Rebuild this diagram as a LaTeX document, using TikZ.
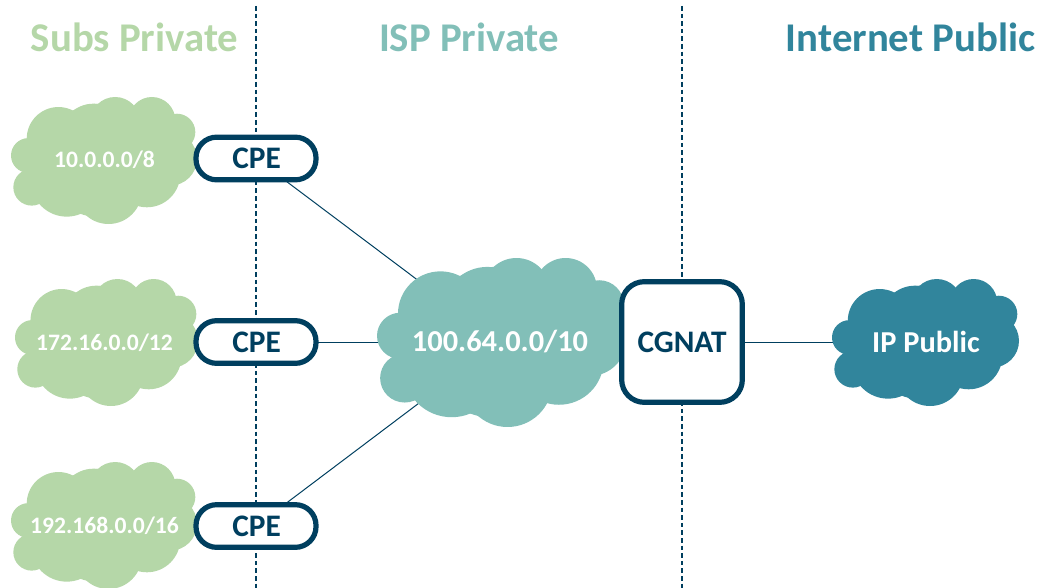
\documentclass[tikz,border=0pt]{standalone}
\usepackage{fontspec}
\setmainfont{Carlito}
\definecolor{subsgreen}{HTML}{B5D7A8}
\definecolor{ispteal}{HTML}{82BFB8}
\definecolor{netblue}{HTML}{31859C}
\definecolor{navy}{HTML}{003F5F}
\tikzset{
    zone/.style={font=\bfseries\fontsize{30.6}{30.6}\selectfont},
    border/.style={navy,line width=2.2pt,dash pattern=on 3.5pt off 2.2pt},
    link/.style={navy,line width=0.75pt},
    cpebox/.style={draw=navy,fill=white,line width=3.9pt,rounded corners=15.5pt,
        minimum width=90pt,minimum height=32pt,inner sep=0pt,
        text=navy,font=\bfseries\fontsize{23.5}{23.5}\selectfont},
    natbox/.style={cpebox,rounded corners=17pt,minimum width=90.5pt,minimum height=90.5pt},
    cloudtext/.style={text=white,inner sep=0pt,font=\bfseries\fontsize{17.7}{17.7}\selectfont},
}
% cloud outline, in a box of 557 x 380
\newcommand{\cloudblob}[5]{
    \begin{scope}[shift={(#1,#2)},x=#3*0.75pt/557,y=-#4*0.75pt/380,fill=#5]
        \foreach \cx/\cy/\cr in {52/175/52,62/270/55,167/250/108,292/280/100,407/230/100,
                477/185/80,497/105/55,422/70/70,312/75/75,247/120/100,142/125/95,267/190/170} {
                \fill (\cx,\cy) ellipse [x radius=\cr,y radius=\cr];
            }
    \end{scope}
}
\begin{document}
\begin{tikzpicture}[x=0.75pt,y=-0.75pt]
    \useasboundingbox (0,0) rectangle (1041,588);

    % zones
    \node[zone,text=subsgreen] (subs) at (134.5,37) {Subs Private};
    \node[zone,text=ispteal] (ispzone) at (469,37) {ISP Private};
    \node[zone,text=netblue] (inet) at (910.5,37) {Internet Public};

    \coordinate (B1top) at (256,6);
    \coordinate (B1bot) at (256,588);
    \coordinate (B2top) at (682,6);
    \coordinate (B2bot) at (682,588);
    \draw[border] (B1top) -- (B1bot);
    \draw[border] (B2top) -- (B2bot);

    \coordinate (C1) at (256,158.5);
    \coordinate (C2) at (256,342);
    \coordinate (C3) at (256,526);
    \coordinate (ISP) at (500,342);
    \coordinate (NAT) at (682,342);
    \coordinate (PUB) at (926,342);

    \begin{scope}[link]
        \draw (C1) -- (ISP);
        \draw (C2) -- (ISP);
        \draw (C3) -- (ISP);
        \draw (NAT) -- (PUB);
    \end{scope}

    % clouds
    \cloudblob{11}{97}{186}{127}{subsgreen}
    \cloudblob{15}{279}{183}{127}{subsgreen}
    \cloudblob{11}{462}{186}{127}{subsgreen}
    \cloudblob{377}{258}{249}{169}{ispteal}
    \cloudblob{832}{279}{187}{127}{netblue}

    \node[cloudtext] (net1) at (104.5,160) {10.0.0.0/8};
    \node[cloudtext] (net2) at (104.5,343) {172.16.0.0/12};
    \node[cloudtext] (net3) at (104.5,526) {192.168.0.0/16};
    \node[cloudtext,font=\bfseries\fontsize{22.8}{22.8}\selectfont] (isp) at (ISP) {100.64.0.0/10};
    \node[cloudtext,font=\bfseries\fontsize{22.8}{22.8}\selectfont] (pub) at (PUB) {IP Public};

    % boxes
    \node[cpebox] (cpe1) at (C1) {\hspace{1pt}CPE};
    \node[cpebox] (cpe2) at (C2) {\hspace{1pt}CPE};
    \node[cpebox] (cpe3) at (C3) {\hspace{1pt}CPE};
    \node[natbox] (nat) at (NAT) {CGNAT};
\end{tikzpicture}
\end{document}
